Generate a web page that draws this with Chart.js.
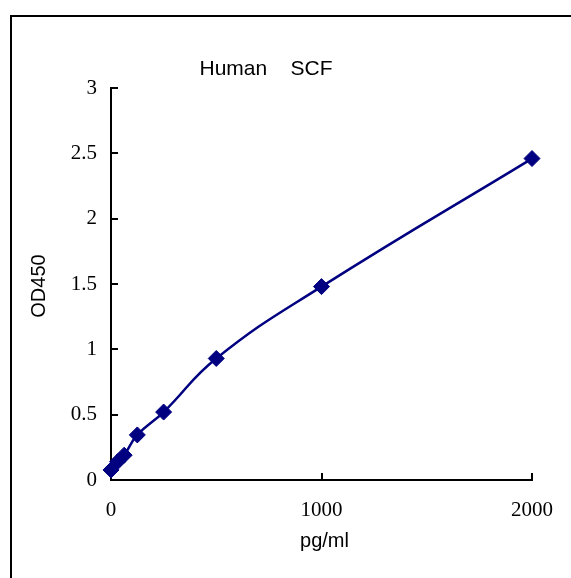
<!DOCTYPE html>
<html>
<head>
<meta charset="utf-8">
<script src="https://cdn.jsdelivr.net/npm/chart.js@4.4.1/dist/chart.umd.min.js"></script>
<style>
  html, body { margin: 0; padding: 0; background: #ffffff; }
  #wrap { position: relative; width: 571px; height: 578px; }
</style>
</head>
<body>
<div id="wrap"><canvas id="c" width="571" height="578"></canvas></div>
<script>
// Data
const concentrations = [0, 31.25, 62.5, 125, 250, 500, 1000, 2000];
const od450 = [0.077, 0.14, 0.19, 0.345, 0.52, 0.93, 1.48, 2.46];
const xTicks = [0, 1000, 2000];
const yTicks = [0, 0.5, 1, 1.5, 2, 2.5, 3];
const chartTitle = 'Human    SCF';
const xTitle = 'pg/ml';
const yTitle = 'OD450';

const points = concentrations.map((x, i) => ({ x: x, y: od450[i] }));

const decor = {
  id: 'decor',
  beforeDraw(chart) {
    const ctx = chart.ctx;
    ctx.save();
    ctx.fillStyle = '#ffffff';
    ctx.fillRect(0, 0, chart.width, chart.height);
    ctx.restore();
  },
  afterDraw(chart) {
    const ctx = chart.ctx;
    const xs = chart.scales.x, ys = chart.scales.y;
    const a = chart.chartArea;
    ctx.save();
    // outer frame (left + top visible)
    ctx.strokeStyle = '#000000';
    ctx.lineWidth = 2;
    ctx.beginPath();
    ctx.moveTo(11, chart.height + 5);
    ctx.lineTo(11, 16);
    ctx.lineTo(chart.width + 5, 16);
    ctx.stroke();
    // inward ticks
    ctx.lineWidth = 2;
    ctx.beginPath();
    yTicks.forEach(v => {
      const py = Math.round(ys.getPixelForValue(v));
      ctx.moveTo(a.left, py);
      ctx.lineTo(a.left + 7, py);
    });
    xTicks.forEach(v => {
      if (v === 0) return;
      const px = Math.round(xs.getPixelForValue(v));
      ctx.moveTo(px, a.bottom);
      ctx.lineTo(px, a.bottom - 7);
    });
    ctx.stroke();
    // texts
    ctx.fillStyle = '#000000';
    ctx.font = '21px "Liberation Sans", Arial, sans-serif';
    ctx.textAlign = 'center';
    ctx.textBaseline = 'alphabetic';
    ctx.fillText(chartTitle, 266, 75);
    ctx.font = '20px "Liberation Sans", Arial, sans-serif';
    ctx.fillText(xTitle, (a.left + a.right) / 2 + 3, 547);
    ctx.save();
    ctx.translate(45, 286);
    ctx.rotate(-Math.PI / 2);
    ctx.fillText(yTitle, 0, 0);
    ctx.restore();
    ctx.restore();
  }
};

new Chart(document.getElementById('c'), {
  type: 'scatter',
  data: {
    datasets: [{
      data: points,
      showLine: true,
      borderColor: '#000080',
      backgroundColor: '#000080',
      borderWidth: 2.5,
      tension: 0.45,
      pointStyle: 'rectRot',
      pointRadius: 8,
      pointHoverRadius: 8,
      pointBorderWidth: 1,
      pointBorderColor: '#000080',
      pointBackgroundColor: '#000080',
      clip: false
    }]
  },
  options: {
    responsive: false,
    animation: false,
    events: [],
    layout: { padding: { left: 0, top: 88, right: 39, bottom: 0 } },
    plugins: {
      legend: { display: false },
      title: { display: false },
      tooltip: { enabled: false }
    },
    scales: {
      x: {
        type: 'linear',
        min: 0, max: 2000,
        afterBuildTicks(scale) { scale.ticks = xTicks.map(v => ({ value: v })); },
        afterFit(scale) { scale.height = 98; },
        grid: { display: false, drawTicks: false },
        border: { display: true, color: '#000000', width: 2 },
        ticks: {
          color: '#000000',
          padding: 18,
          maxRotation: 0,
          font: { family: '"Liberation Serif", "Times New Roman", serif', size: 21 },
          callback: v => String(v)
        }
      },
      y: {
        type: 'linear',
        min: 0, max: 3,
        afterBuildTicks(scale) { scale.ticks = yTicks.map(v => ({ value: v })); },
        afterFit(scale) { scale.width = 111; },
        grid: { display: false, drawTicks: false },
        border: { display: true, color: '#000000', width: 2 },
        ticks: {
          color: '#000000',
          padding: 14,
          font: { family: '"Liberation Serif", "Times New Roman", serif', size: 21 },
          callback: v => String(v)
        }
      }
    }
  },
  plugins: [decor]
});
</script>
</body>
</html>
